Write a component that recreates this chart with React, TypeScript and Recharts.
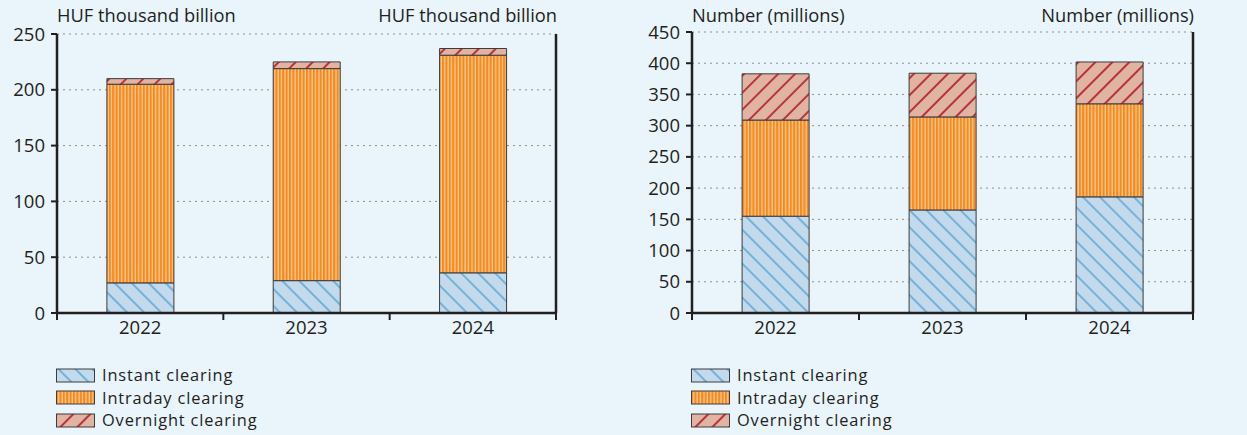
import { BarChart, Bar, XAxis, YAxis, CartesianGrid } from "recharts";

const years = ["2022", "2023", "2024"];

// value of clearing, HUF thousand billion
const valueInstant = [27, 29, 36];
const valueIntraday = [178, 190, 195];
const valueOvernight = [5, 6, 6];
const valueTicks = [0, 50, 100, 150, 200, 250];

// number of transactions, millions
const countInstant = [155, 165, 186];
const countIntraday = [154, 149, 149];
const countOvernight = [74, 70, 67];
const countTicks = [0, 50, 100, 150, 200, 250, 300, 350, 400, 450];

const legendItems = [
  { key: "instant", label: "Instant clearing", fill: "url(#patInstant)" },
  { key: "intraday", label: "Intraday clearing", fill: "url(#patIntraday)" },
  { key: "overnight", label: "Overnight clearing", fill: "url(#patOvernight)" },
];

const FONT = "'Open Sans', sans-serif";
const INK = "#231F20";

function Patterns() {
  return (
    <svg width={0} height={0} style={{ position: "absolute" }}>
      <defs>
        <pattern id="patInstant" patternUnits="userSpaceOnUse" width={12} height={12} patternTransform="rotate(-45)">
          <rect width={12} height={12} fill="#C3D9EC" />
          <line x1={1} y1={0} x2={1} y2={12} stroke="#62A8D4" strokeWidth={1.6} />
        </pattern>
        <pattern id="patIntraday" patternUnits="userSpaceOnUse" width={3.4} height={10}>
          <rect width={3.4} height={10} fill="#F58A1F" />
          <rect x={2.1} width={1.3} height={10} fill="#FCC890" />
        </pattern>
        <pattern id="patOvernight" patternUnits="userSpaceOnUse" width={12} height={12} patternTransform="rotate(45)">
          <rect width={12} height={12} fill="#E1B3A2" />
          <line x1={1} y1={0} x2={1} y2={12} stroke="#B3262E" strokeWidth={1.8} />
        </pattern>
      </defs>
    </svg>
  );
}

interface ChartProps {
  left: number;
  width: number;
  height: number;
  top: number;
  axisLeftW: number;
  axisRightW: number;
  axisBottom: number;
  unit: string;
  ticks: number[];
  instant: number[];
  intraday: number[];
  overnight: number[];
}

function ClearingChart(p: ChartProps) {
  const data = years.map((y, i) => ({
    year: y,
    instant: p.instant[i],
    intraday: p.intraday[i],
    overnight: p.overnight[i],
  }));
  const plotW = p.width - p.axisLeftW - p.axisRightW;
  const catW = plotW / years.length;
  const max = p.ticks[p.ticks.length - 1];

  const yearTick = (props: any) => {
    const { x, payload, index } = props;
    const y0 = p.axisBottom;
    return (
      <g>
        <line x1={x - catW / 2} y1={y0} x2={x - catW / 2} y2={y0 + 7} stroke={INK} strokeWidth={2} />
        {index === years.length - 1 && (
          <line x1={x + catW / 2} y1={y0} x2={x + catW / 2} y2={y0 + 7} stroke={INK} strokeWidth={2} />
        )}
        <text x={x} y={y0 + 21} textAnchor="middle" fill={INK} fontSize={18.5} fontFamily={FONT}>
          {payload.value}
        </text>
      </g>
    );
  };

  const tickStyle = { fill: INK, fontSize: 18.5, fontFamily: FONT };

  return (
    <div style={{ position: "absolute", left: p.left, top: 0, width: p.width, height: p.height + 110 }}>
      <div style={{ position: "absolute", left: p.axisLeftW, top: 2, fontSize: 18.3, fontFamily: FONT, color: INK }}>
        {p.unit}
      </div>
      <div style={{ position: "absolute", right: p.axisRightW - 1, top: 2, fontSize: 18.3, fontFamily: FONT, color: INK }}>
        {p.unit}
      </div>
      <BarChart
        width={p.width}
        height={p.height}
        data={data}
        margin={{ top: p.top, right: 0, bottom: 0, left: 0 }}
        barCategoryGap="30%"
      >
        <CartesianGrid yAxisId="left" vertical={false} stroke="#8E8E8E" strokeDasharray="2 4" />
        <XAxis
          dataKey="year"
          height={p.height - p.axisBottom}
          tickLine={false}
          axisLine={{ stroke: INK, strokeWidth: 2.5 }}
          tick={yearTick}
          interval={0}
        />
        <YAxis
          yAxisId="left"
          width={p.axisLeftW}
          domain={[0, max]}
          ticks={p.ticks}
          interval={0}
          tickSize={6}
          tickMargin={6}
          tick={tickStyle}
          axisLine={{ stroke: INK, strokeWidth: 2.5 }}
          tickLine={{ stroke: INK, strokeWidth: 2 }}
        />
        <YAxis
          yAxisId="right"
          orientation="right"
          width={p.axisRightW}
          domain={[0, max]}
          ticks={p.ticks}
          interval={0}
          tickSize={6}
          tickMargin={6}
          tick={tickStyle}
          axisLine={{ stroke: INK, strokeWidth: 2.5 }}
          tickLine={{ stroke: INK, strokeWidth: 2 }}
        />
        <Bar yAxisId="left" dataKey="instant" stackId="a" fill="url(#patInstant)" stroke="#3C3C3C" strokeWidth={1} isAnimationActive={false} />
        <Bar yAxisId="left" dataKey="intraday" stackId="a" fill="url(#patIntraday)" stroke="#3C3C3C" strokeWidth={1} isAnimationActive={false} />
        <Bar yAxisId="left" dataKey="overnight" stackId="a" fill="url(#patOvernight)" stroke="#3C3C3C" strokeWidth={1} isAnimationActive={false} />
      </BarChart>
      <div style={{ position: "absolute", left: p.axisLeftW - 1, top: 364 }}>
        {legendItems.map((it) => (
          <div key={it.key} style={{ display: "flex", alignItems: "center", height: 22.5 }}>
            <svg width={40} height={15} style={{ display: "block" }}>
              <rect x={0.5} y={1} width={38} height={13} fill={it.fill} stroke="#3C3C3C" strokeWidth={1} />
            </svg>
            <span
              style={{
                marginLeft: 6,
                fontSize: 16.4,
                letterSpacing: 0.85,
                fontFamily: FONT,
                color: INK,
                lineHeight: "22px",
              }}
            >
              {it.label}
            </span>
          </div>
        ))}
      </div>
    </div>
  );
}

export default function App() {
  return (
    <div style={{ position: "fixed", inset: 0, background: "#E9F4FB", overflow: "hidden" }}>
      <Patterns />
      <ClearingChart
        left={0}
        width={600}
        height={340}
        top={34}
        axisLeftW={57}
        axisRightW={44}
        axisBottom={313}
        unit="HUF thousand billion"
        ticks={valueTicks}
        instant={valueInstant}
        intraday={valueIntraday}
        overnight={valueOvernight}
      />
      <ClearingChart
        left={630}
        width={617}
        height={340}
        top={32}
        axisLeftW={62}
        axisRightW={54}
        axisBottom={313}
        unit="Number (millions)"
        ticks={countTicks}
        instant={countInstant}
        intraday={countIntraday}
        overnight={countOvernight}
      />
    </div>
  );
}
